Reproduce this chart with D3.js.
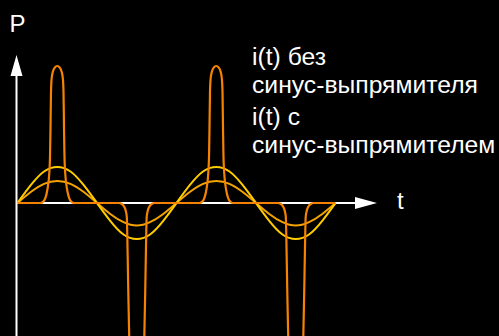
<!DOCTYPE html>
<html>
<head>
<meta charset="utf-8">
<script src="https://cdn.jsdelivr.net/npm/d3@7"></script>
<style>
  html, body { margin: 0; padding: 0; background: #000; }
  svg { display: block; }
</style>
</head>
<body>
<div class="chart"></div>
<script>
let width = 499
let height = 336

// phase angle in degrees, two mains periods
let angles = [0, 30, 60, 90, 120, 150, 180, 210, 240, 270, 300, 330, 360,
              390, 420, 450, 480, 510, 540, 570, 600, 630, 660, 690, 720]
// sine current with the sine rectifier (two amplitudes)
let sineBig =   [0, 0.13, 0.23, 0.263, 0.23, 0.13, 0, -0.13, -0.23, -0.263, -0.23, -0.13, 0,
                 0.13, 0.23, 0.263, 0.23, 0.13, 0, -0.13, -0.23, -0.263, -0.23, -0.13, 0]
let sineSmall = [0, 0.08, 0.14, 0.16, 0.14, 0.08, 0, -0.08, -0.14, -0.165, -0.14, -0.08, 0,
                 0.08, 0.14, 0.16, 0.14, 0.08, 0, -0.08, -0.14, -0.165, -0.14, -0.08, 0]

// pulse current without the rectifier: one pulse per half period
let pulseCenters = [90, 270, 450, 630]
let pulseSigns = [1, -1, 1, -1]
// half-profile of a positive pulse: offset from centre (deg) -> value
let posOffsets = [0, 5.6, 10.1, 12.8, 14.2, 15.3, 16.2, 18, 22.5, 27, 31.5, 38]
let posValues  = [1, 0.989, 0.956, 0.905, 0.803, 0.547, 0.365, 0.219, 0.095, 0.036, 0.011, 0]
// half-profile of a negative pulse (deeper, runs off the bottom)
let negOffsets = [0, 6.8, 12.4, 15.8, 17.1, 19.1, 20.7, 22.5, 24.8, 28.1, 33.8, 40.5]
let negValues  = [1.24, 1.226, 1.19, 1.095, 0.971, 0.657, 0.365, 0.102, 0.058, 0.029, 0.007, 0]

let labels = ["i(t) без", "синус-выпрямителя", "i(t) с", "синус-выпрямителем"]

let x = d3.scaleLinear().domain([0, 720]).range([17.5, 335.5])
let y = d3.scaleLinear().domain([0, 1]).range([203, 66])

// build pulse series from the profiles
let pulse = [[0, 0]]
pulseCenters.forEach((c, i) => {
    let offs = pulseSigns[i] > 0 ? posOffsets : negOffsets
    let vals = pulseSigns[i] > 0 ? posValues : negValues
    for (let k = offs.length - 1; k >= 0; k--) pulse.push([c - offs[k], pulseSigns[i] * vals[k]])
    for (let k = 1; k < offs.length; k++) pulse.push([c + offs[k], pulseSigns[i] * vals[k]])
})
pulse.push([720, 0])

const svg = d3.create("svg")
    .attr("width", width)
    .attr("height", height)
    .style("background", "#000")

// axes
let x0 = x(0) - 1
svg.append("line")
    .attr("x1", x0).attr("x2", x0)
    .attr("y1", 70).attr("y2", height)
    .attr("stroke", "#fff").attr("stroke-width", 2)
svg.append("path")
    .attr("d", `M${x0},55 L${x0 - 6},76 L${x0 + 6},76 Z`)
    .attr("fill", "#fff")
svg.append("line")
    .attr("x1", x0).attr("x2", 360)
    .attr("y1", y(0)).attr("y2", y(0))
    .attr("stroke", "#fff").attr("stroke-width", 2)
svg.append("path")
    .attr("d", `M377,${y(0)} L355,${y(0) - 6} L355,${y(0) + 6} Z`)
    .attr("fill", "#fff")

let line = d3.line()
    .x(d => x(d[0]))
    .y(d => y(d[1]))

svg.append("path")
    .datum(angles.map((a, i) => [a, sineSmall[i]]))
    .attr("fill", "none")
    .attr("stroke", "#f5a300")
    .attr("stroke-width", 2)
    .attr("d", line.curve(d3.curveNatural))

svg.append("path")
    .datum(angles.map((a, i) => [a, sineBig[i]]))
    .attr("fill", "none")
    .attr("stroke", "#ffcc00")
    .attr("stroke-width", 2)
    .attr("d", line.curve(d3.curveNatural))

svg.append("path")
    .datum(pulse)
    .attr("fill", "none")
    .attr("stroke", "#f58200")
    .attr("stroke-width", 2.2)
    .attr("d", line.curve(d3.curveMonotoneX))

// texts
let font = "'Liberation Sans', Arial, sans-serif"
svg.append("text")
    .attr("x", 9.5).attr("y", 32)
    .attr("fill", "#fff").attr("font-family", font).attr("font-size", 24)
    .text("P")
svg.append("text")
    .attr("x", 397).attr("y", 209)
    .attr("fill", "#fff").attr("font-family", font).attr("font-size", 24)
    .text("t")

let baselines = [65, 93, 125, 153]
svg.append("g")
    .selectAll("text")
    .data(labels)
    .join("text")
    .attr("x", 252)
    .attr("y", (d, i) => baselines[i])
    .attr("fill", "#fff")
    .attr("font-family", font)
    .attr("font-size", 24.7)
    .text(d => d)

d3.select(".chart").node().append(svg.node())
</script>
</body>
</html>
